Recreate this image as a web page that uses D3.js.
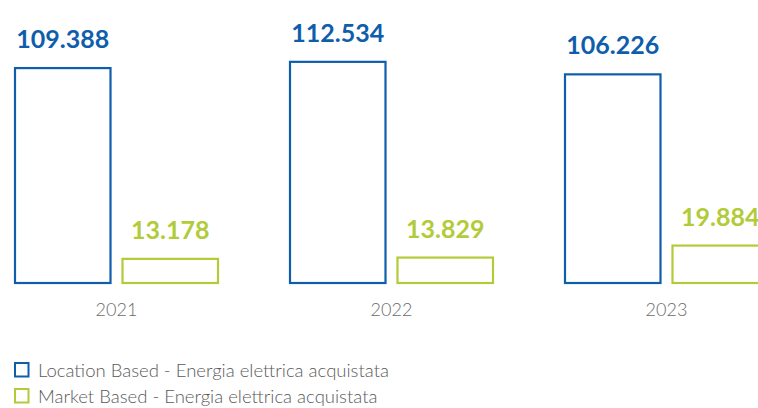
<!DOCTYPE html>
<html>
<head>
<meta charset="utf-8">
<script src="https://cdn.jsdelivr.net/npm/d3@7"></script>
<style>
  html, body { margin: 0; padding: 0; background: #fff; }
  svg { display: block; }
</style>
</head>
<body>
<svg id="chart" width="758" height="408"></svg>
<script>
const years = ["2021", "2022", "2023"];
const seriesNames = ["Location Based - Energia elettrica acquistata", "Market Based - Energia elettrica acquistata"];
const locationBased = [109.388, 112.534, 106.226];
const marketBased = [13.178, 13.829, 19.884];
const valueLabels = [["109.388", "112.534", "106.226"], ["13.178", "13.829", "19.884"]];
const colors = ["#0f5eab", "#b2cb38"];

const svg = d3.select("#chart");
const seriesVals = [locationBased, marketBased];

const x = d3.scaleBand().domain(years).range([14, 769]).paddingInner(70 / 275).paddingOuter(0);
const xs = d3.scaleBand().domain([0, 1]).range([0, x.bandwidth()]).paddingInner(0.093).paddingOuter(0);
const y = d3.scaleLinear().domain([0, 120]).range([284, 284 - 1.983 * 120]);

const data = [];
years.forEach((yr, i) => {
  seriesVals.forEach((vals, s) => {
    data.push({ year: yr, s, v: vals[i], label: valueLabels[s][i] });
  });
});

const g = svg.append("g");
g.selectAll("rect.bar").data(data).join("rect")
  .attr("class", "bar")
  .attr("x", d => x(d.year) + xs(d.s) + 1)
  .attr("y", d => y(d.v) + 1)
  .attr("width", xs.bandwidth() - 2)
  .attr("height", d => y(0) - y(d.v) - 2)
  .attr("fill", "none")
  .attr("stroke", d => colors[d.s])
  .attr("stroke-width", 2.2);

g.selectAll("text.val").data(data).join("text")
  .attr("class", "val")
  .attr("x", d => x(d.year) + xs(d.s) + xs.bandwidth() / 2)
  .attr("y", d => y(d.v) - 19)
  .attr("text-anchor", "middle")
  .attr("font-family", "Lato, sans-serif")
  .attr("font-weight", 700)
  .attr("font-size", 25)
  .attr("fill", d => colors[d.s])
  .text(d => d.label);

g.selectAll("text.year").data(years).join("text")
  .attr("class", "year")
  .attr("x", d => x(d) + x.bandwidth() / 2)
  .attr("y", 315.5)
  .attr("text-anchor", "middle")
  .attr("font-family", "Lato, sans-serif")
  .attr("font-weight", 300)
  .attr("font-size", 18)
  .attr("fill", "#6b6b6b")
  .text(d => d);

const leg = svg.append("g").selectAll("g").data(seriesNames).join("g")
  .attr("transform", (d, i) => `translate(0, ${i * 26})`);
leg.append("rect")
  .attr("x", 15).attr("y", 363)
  .attr("width", 13.5).attr("height", 13.5)
  .attr("fill", "none")
  .attr("stroke", (d, i) => colors[i])
  .attr("stroke-width", 2);
leg.append("text")
  .attr("x", 38).attr("y", 377)
  .attr("font-family", "Lato, sans-serif")
  .attr("font-weight", 300)
  .attr("font-size", 18.5)
  .attr("fill", "#5a5a5a")
  .text(d => d);
</script>
</body>
</html>
